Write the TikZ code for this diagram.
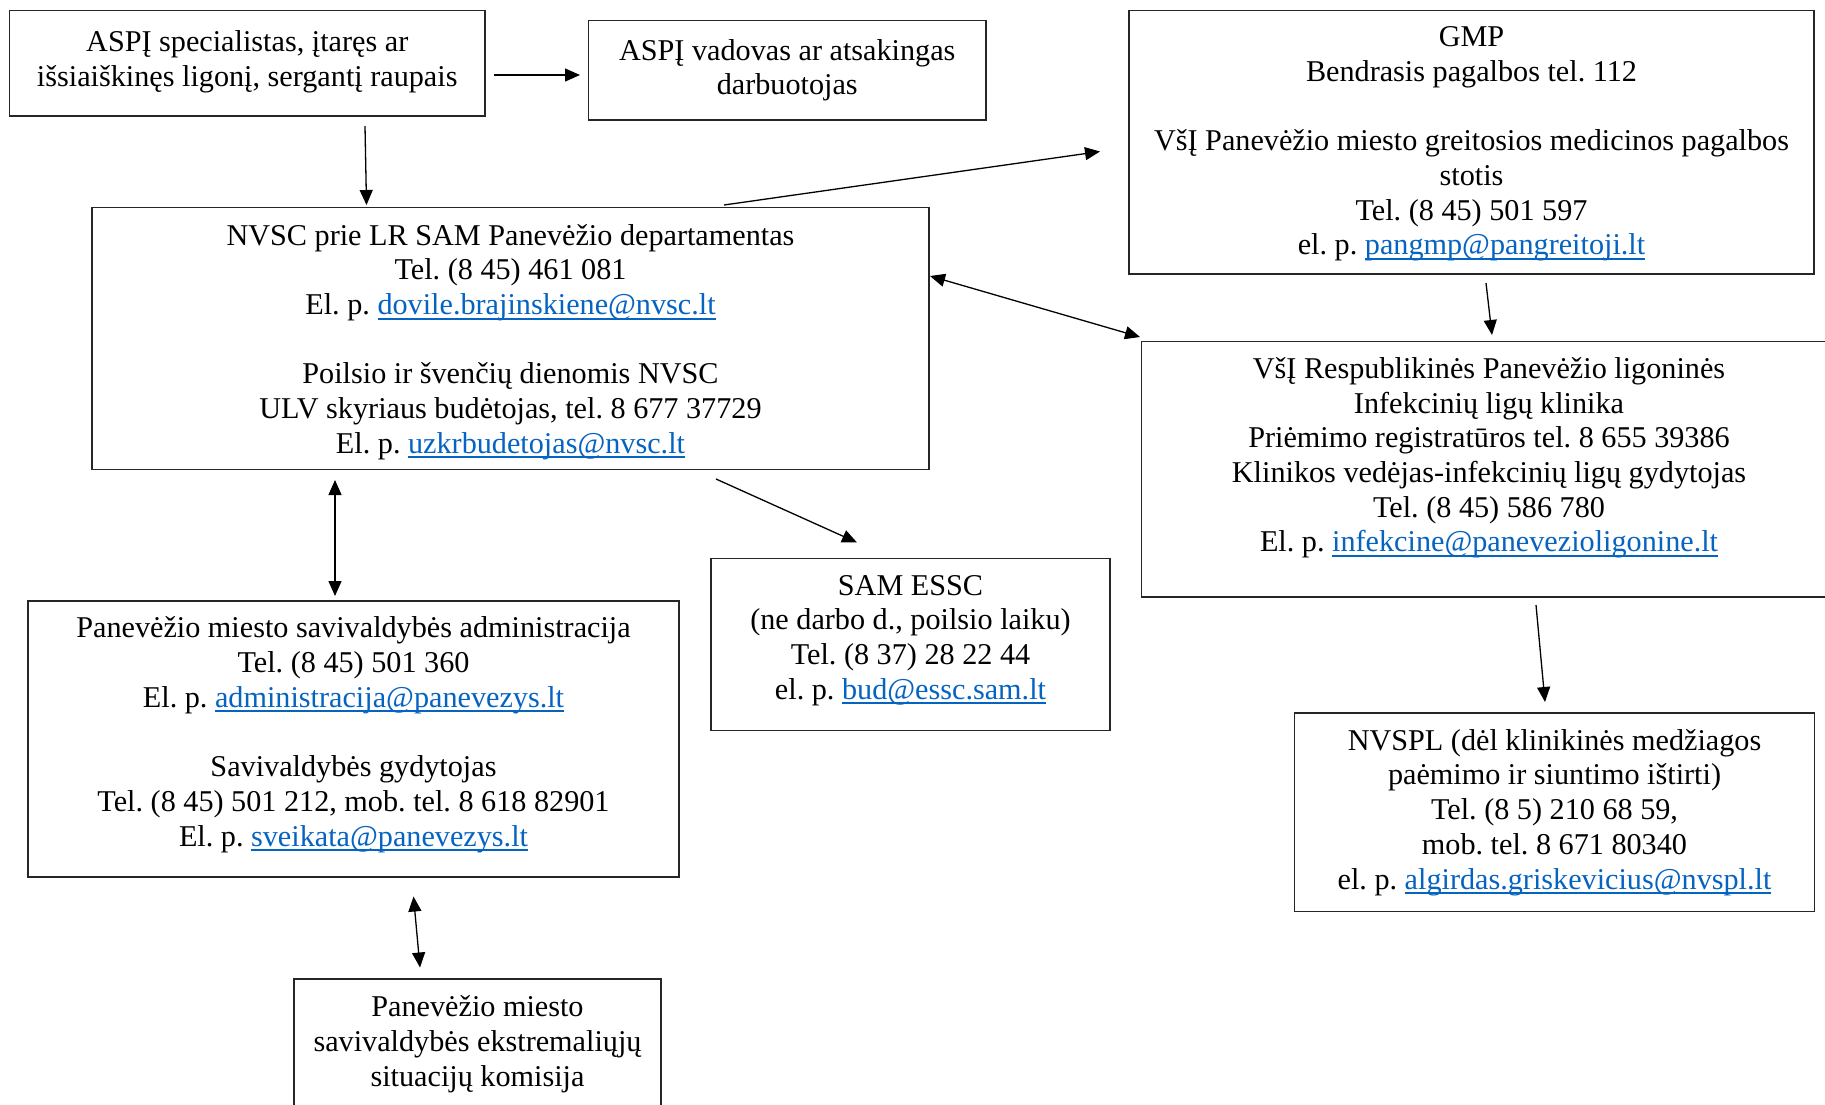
\documentclass[tikz,border=0pt]{standalone}
\usepackage{fontspec}
\setmainfont{Liberation Serif}
\usetikzlibrary{arrows.meta,calc}
\definecolor{linkblue}{HTML}{0563C1}
\newcommand{\lnk}[1]{{\color{linkblue}\setbox0=\hbox{#1}\rlap{\rule[-5.2pt]{\wd0}{2.1pt}}\box0}}
\frenchspacing
\begin{document}
\begin{tikzpicture}[x=1pt,y=-1pt,
  boxx/.style={draw=black!85, line width=1.3pt, inner sep=0pt, outer sep=0pt, rectangle},
  txt/.style={align=center, inner sep=0pt, anchor=base, font=\fontsize{30.2}{34.7}\selectfont\frenchspacing},
  conn/.style={line width=1.3pt, -{Triangle[length=15pt,width=13pt]}},
  biconn/.style={line width=1.3pt, {Triangle[length=15pt,width=13pt]}-{Triangle[length=15pt,width=13pt]}}]
\path[use as bounding box, clip] (0,0) rectangle (1825,1104);
\fill[white] (0,0) rectangle (1825,1104);

% boxes
\node[boxx, minimum width=475.5pt, minimum height=105.5pt] (b1) at (247.25,63.25) {};
\node[boxx, minimum width=397.5pt, minimum height=99.5pt] (b2) at (787.25,70.25) {};
\node[boxx, minimum width=685pt, minimum height=263.5pt] (gmp) at (1471.5,142.25) {};
\node[boxx, minimum width=837pt, minimum height=262pt] (nvsc) at (510.5,338.5) {};
\node[boxx, minimum width=695pt, minimum height=255.5pt] (resp) at (1489,469.25) {};
\node[boxx, minimum width=399pt, minimum height=172.2pt] (essc) at (910.5,644.6) {};
\node[boxx, minimum width=651pt, minimum height=276pt] (adm) at (353.5,739) {};
\node[boxx, minimum width=520pt, minimum height=198.5pt] (nvspl) at (1554.5,812.25) {};
\node[boxx, minimum width=367pt, minimum height=136pt] (kom) at (477.5,1047) {};

% texts (anchored at the baseline of the last line)
\node[txt] (b1t) at (247.25,86.2) {ASPĮ specialistas, įtaręs ar\\išsiaiškinęs ligonį, sergantį raupais};
\node[txt] (b2t) at (787.25,94.7) {ASPĮ vadovas ar atsakingas\\darbuotojas};
\node[txt] (gmpt) at (1471.5,254.9) {GMP\\Bendrasis pagalbos tel. 112\\[34.7pt]VšĮ Panevėžio miesto greitosios medicinos pagalbos\\stotis\\Tel. (8 45) 501 597\\el. p. \lnk{pangmp@pangreitoji.lt}};
\node[txt] (nvsct) at (510.5,453.2) {NVSC prie LR SAM Panevėžio departamentas\\Tel. (8 45) 461 081\\El. p. \lnk{dovile.brajinskiene@nvsc.lt}\\[34.7pt]Poilsio ir švenčių dienomis NVSC\\ULV skyriaus budėtojas, tel. 8 677 37729\\El. p. \lnk{uzkrbudetojas@nvsc.lt}};
\node[txt] (respt) at (1489,551.8) {VšĮ Respublikinės Panevėžio ligoninės\\Infekcinių ligų klinika\\Priėmimo registratūros tel. 8 655 39386\\Klinikos vedėjas-infekcinių ligų gydytojas\\Tel. (8 45) 586 780\\El. p. \lnk{infekcine@panevezioligonine.lt}};
\node[txt] (essct) at (910.5,699.1) {SAM ESSC\\(ne darbo d., poilsio laiku)\\Tel. (8 37) 28 22 44\\el. p. \lnk{bud@essc.sam.lt}};
\node[txt] (admt) at (353.5,846) {Panevėžio miesto savivaldybės administracija\\Tel. (8 45) 501 360\\El. p. \lnk{administracija@panevezys.lt}\\[34.7pt]Savivaldybės gydytojas\\Tel. (8 45) 501 212, mob. tel. 8 618 82901\\El. p. \lnk{sveikata@panevezys.lt}};
\node[txt] (nvsplt) at (1554.5,889) {NVSPL (dėl klinikinės medžiagos\\paėmimo ir siuntimo ištirti)\\Tel. (8 5) 210 68 59,\\mob. tel. 8 671 80340\\el. p. \lnk{algirdas.griskevicius@nvspl.lt}};
\node[txt] (komt) at (477.5,1086.1) {Panevėžio miesto\\savivaldybės ekstremaliųjų\\situacijų komisija};

% connectors
\draw[conn] ($(b1.north west)+(484.5,64.5)$) -- ($(b2.north west)+(-8.5,54.5)$);
\draw[conn] ($(b1.north west)+(355.5,115.5)$) -- ($(nvsc.north west)+(274.5,-2.5)$);
\draw[conn] ($(nvsc.north west)+(632,-2.5)$) -- ($(gmp.north west)+(-29,141)$);
\draw[biconn] ($(nvsc.north west)+(838,68.5)$) -- ($(resp.north west)+(-1.5,-4.5)$);
\draw[conn] ($(gmp.north west)+(357,272.5)$) -- ($(resp.north west)+(350.5,-6.5)$);
\draw[biconn] ($(nvsc.north west)+(243,272.5)$) -- ($(adm.north west)+(307,-5)$);
\draw[conn] ($(nvsc.north west)+(624,271.5)$) -- ($(essc.north west)+(146,-16)$);
\draw[conn] ($(resp.north west)+(394.5,263.5)$) -- ($(nvspl.north west)+(250.5,-11)$);
\draw[biconn] ($(adm.north west)+(385.5,295.5)$) -- ($(kom.north west)+(126,-11.5)$);
\end{tikzpicture}
\end{document}
